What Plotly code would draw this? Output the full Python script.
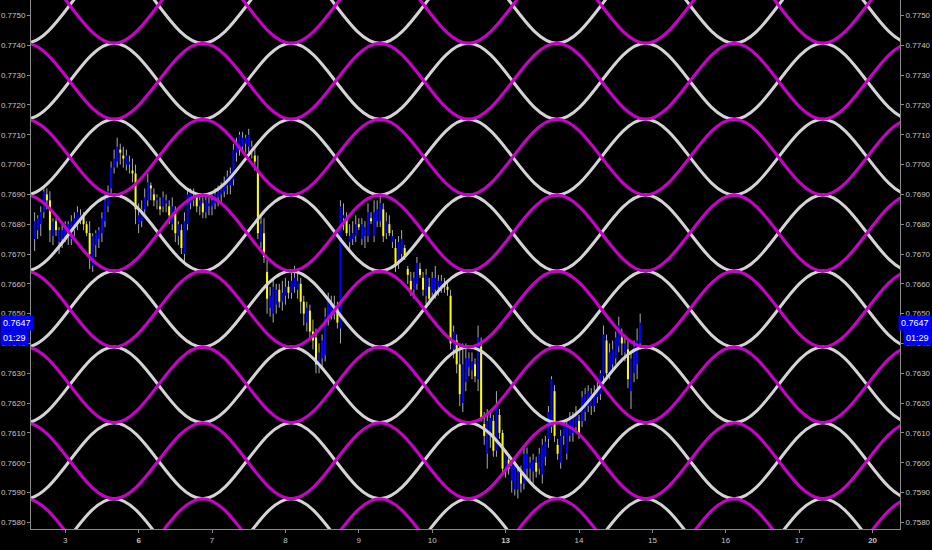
import plotly.graph_objects as go

# ---------------- data ----------------
# hourly bars; hour offsets from the start of trading day "3" (x axis counts trading days)
hours = list(range(-10, 189))

# prices in pips (0.0001)
open_p = [7675,7678,7680,7684,7690,7688,7676,7681,7674,7675,7676,7677,7675,7678,7680,7682,7683,7680,7677,7666,
          7673,7675,7677,7681,7686,7692,7699,7701,7705,7703,7700,7700,7698,7697,7680,7681,7685,7688,7693,7690,
          7688,7686,7686,7687,7686,7680,7684,7676,7678,7670,7680,7687,7688,7689,7686,7687,7684,7686,7686,7687,
          7689,7690,7691,7693,7693,7695,7704,7705,7706,7707,7706,7705,7703,7698,7674,7677,7664,7652,7650,7653,
          7658,7654,7656,7659,7657,7659,7658,7660,7654,7647,7651,7644,7642,7632,7635,7636,7648,7650,7650,7652,
          7645,7682,7682,7674,7675,7676,7680,7675,7676,7676,7682,7676,7681,7681,7685,7677,7680,7674,7672,7668,
          7670,7672,7665,7661,7658,7660,7665,7662,7656,7659,7657,7658,7659,7659,7660,7659,7656,7638,7641,7633,
          7620,7627,7632,7631,7633,7628,7639,7613,7603,7610,7614,7604,7616,7610,7598,7601,7594,7591,7591,7597,
          7593,7598,7598,7597,7600,7598,7596,7602,7608,7612,7624,7606,7600,7609,7603,7609,7610,7612,7614,7614,
          7617,7619,7619,7619,7622,7623,7629,7641,7630,7633,7635,7639,7642,7637,7638,7624,7630,7633,7640]
high_p = [7684,7683,7686,7693,7692,7691,7682,7682,7679,7680,7681,7681,7683,7684,7686,7685,7684,7681,7681,7677,
          7678,7679,7684,7690,7693,7701,7705,7709,7707,7706,7705,7703,7702,7700,7687,7688,7692,7697,7694,7692,
          7690,7689,7691,7690,7688,7689,7686,7681,7680,7684,7692,7692,7692,7690,7690,7689,7690,7689,7690,7692,
          7693,7694,7696,7698,7699,7707,7709,7711,7711,7710,7712,7708,7706,7703,7683,7682,7668,7659,7662,7660,
          7660,7661,7662,7661,7664,7666,7664,7662,7656,7654,7653,7648,7645,7640,7643,7652,7657,7656,7656,7654,
          7688,7687,7684,7680,7681,7683,7682,7682,7681,7687,7684,7688,7688,7690,7687,7684,7683,7678,7675,7676,
          7678,7673,7666,7664,7664,7669,7667,7664,7665,7662,7664,7666,7663,7663,7662,7661,7658,7646,7643,7640,
          7640,7640,7637,7637,7635,7646,7642,7617,7618,7617,7616,7624,7618,7611,7604,7603,7600,7602,7598,7599,
          7605,7605,7602,7603,7602,7605,7608,7609,7619,7629,7626,7608,7611,7614,7614,7617,7617,7619,7616,7624,
          7625,7626,7625,7626,7628,7631,7646,7643,7640,7641,7644,7649,7645,7643,7641,7637,7641,7645,7650]
low_p = [7671,7675,7676,7682,7685,7674,7673,7676,7670,7672,7674,7673,7673,7676,7678,7680,7678,7676,7665,7664,
         7669,7672,7674,7679,7684,7690,7697,7699,7700,7699,7698,7697,7694,7680,7677,7679,7683,7686,7688,7686,
         7685,7683,7684,7684,7680,7678,7674,7673,7670,7667,7678,7685,7686,7684,7683,7682,7682,7683,7683,7685,
         7686,7687,7689,7690,7690,7693,7701,7703,7704,7704,7704,7702,7698,7675,7672,7667,7650,7649,7647,7650,
         7652,7651,7653,7655,7655,7657,7655,7650,7646,7644,7641,7638,7630,7630,7632,7634,7646,7648,7648,7645,
         7640,7678,7676,7671,7673,7674,7678,7673,7672,7674,7680,7674,7679,7679,7674,7675,7676,7672,7664,7665,
         7668,7668,7660,7656,7655,7658,7662,7656,7653,7653,7655,7655,7656,7657,7657,7656,7638,7635,7630,7619,
         7617,7624,7629,7628,7627,7624,7614,7606,7598,7605,7602,7602,7608,7596,7595,7596,7590,7589,7588,7590,
         7591,7595,7594,7593,7595,7596,7593,7599,7605,7610,7607,7601,7598,7606,7601,7607,7607,7610,7608,7612,
         7614,7617,7616,7617,7620,7621,7627,7628,7628,7631,7633,7637,7636,7634,7625,7618,7627,7628,7638]
close_p = [7681,7682,7684,7691,7688,7678,7681,7678,7678,7678,7680,7680,7681,7682,7684,7683,7680,7677,7670,7676,
           7677,7678,7682,7688,7691,7699,7702,7706,7704,7702,7703,7701,7697,7685,7683,7685,7689,7694,7692,7688,
           7689,7685,7689,7688,7683,7686,7677,7680,7672,7681,7690,7691,7689,7686,7688,7684,7688,7687,7688,7690,
           7691,7692,7694,7696,7697,7705,7707,7710,7709,7709,7710,7706,7701,7677,7680,7669,7655,7656,7659,7658,
           7654,7657,7659,7657,7661,7662,7661,7654,7650,7652,7644,7641,7633,7637,7641,7649,7654,7653,7653,7647,
           7686,7683,7677,7676,7677,7680,7679,7680,7679,7684,7681,7684,7685,7687,7676,7681,7677,7676,7666,7674,
           7675,7669,7663,7658,7662,7667,7663,7658,7663,7655,7662,7662,7661,7661,7659,7658,7640,7644,7633,7623,
           7633,7635,7635,7634,7629,7642,7615,7609,7614,7615,7604,7619,7610,7598,7603,7598,7599,7600,7597,7593,
           7603,7603,7600,7601,7597,7603,7606,7607,7617,7628,7609,7603,7609,7613,7612,7615,7615,7617,7610,7622,
           7623,7624,7623,7624,7625,7630,7643,7630,7637,7638,7642,7646,7640,7640,7628,7635,7639,7641,7647]

day_labels = ["3", "6", "7", "8", "9", "10", "13", "14", "15", "16", "17", "20"]
week_starts = ["6", "13", "20"]

# sine-grid indicator: x (trading days) of successive extremes, and the touch levels (pips)
wave_x = [-1.749, -0.542, 0.665, 1.872, 3.079, 4.286, 5.493, 6.700, 7.907, 9.114, 10.321, 11.528, 12.735]
levels = [7562.4, 7587.9, 7613.4, 7638.8, 7664.3, 7689.8, 7715.2, 7740.7, 7766.2]

last_price = "0.7647"
countdown = "01:29"

# ---------------- figure ----------------
PIP = 10000.0
BG = "#000000"
MAG = "#cc00cc"
WHT = "#d4d4d4"
AXC = "#8a8a8a"
TXT = "#c4c4c4"
FONT = "Liberation Sans"

xs = [h / 24.0 for h in hours]

fig = go.Figure()

# wicks
wx, wy = [], []
for x, lo, hi in zip(xs, low_p, high_p):
    wx += [x, x, None]
    wy += [lo / PIP, hi / PIP, None]
fig.add_trace(go.Scatter(x=wx, y=wy, mode="lines", line=dict(color="#ababab", width=1),
                         hoverinfo="skip", showlegend=False))

# bodies
for up, col in ((True, "#0000ff"), (False, "#ffff00")):
    bx, by = [], []
    for x, o, c in zip(xs, open_p, close_p):
        if (c >= o) == up:
            bx += [x, x, None]
            by += [o / PIP, c / PIP, None]
    fig.add_trace(go.Scatter(x=bx, y=by, mode="lines", line=dict(color=col, width=2),
                             hoverinfo="skip", showlegend=False))

# sine grid: in every band one white and one magenta wave in antiphase (white drawn first)
bands = list(zip(levels[:-1], levels[1:]))
for lo, hi in bands:
    wht_y = [(lo if k % 2 else hi) / PIP for k in range(len(wave_x))]
    fig.add_trace(go.Scatter(x=wave_x, y=wht_y, mode="lines",
                             line=dict(color=WHT, width=3, shape="spline", smoothing=1.05),
                             hoverinfo="skip", showlegend=False))
for lo, hi in bands:
    mag_y = [(hi if k % 2 else lo) / PIP for k in range(len(wave_x))]
    fig.add_trace(go.Scatter(x=wave_x, y=mag_y, mode="lines",
                             line=dict(color=MAG, width=3, shape="spline", smoothing=1.05),
                             hoverinfo="skip", showlegend=False))

# invisible trace for the right price axis
fig.add_trace(go.Scatter(x=[xs[0]], y=[close_p[0] / PIP], yaxis="y2", mode="markers",
                         marker=dict(opacity=0), hoverinfo="skip", showlegend=False))

yr = [0.757776, 0.775520]
yticks = [v / PIP for v in range(7580, 7751, 10)]
ax_common = dict(showgrid=False, zeroline=False, showline=True, linecolor=AXC, linewidth=1,
                 ticks="outside", ticklen=3, tickcolor=AXC, tickwidth=1,
                 tickfont=dict(family=FONT, size=8, color=TXT))

fig.update_layout(
    width=932, height=550,
    margin=dict(l=31, r=32, t=0, b=21),
    paper_bgcolor=BG, plot_bgcolor=BG,
    showlegend=False,
    xaxis=dict(range=[-0.466, 11.373], tickmode="array", tickvals=list(range(len(day_labels))),
               ticktext=[f"<b>{d}</b>" if d in week_starts else d for d in day_labels], **ax_common),
    yaxis=dict(range=yr, tickmode="array", tickvals=yticks, tickformat=".4f", side="left", **ax_common),
    yaxis2=dict(range=yr, tickmode="array", tickvals=yticks, tickformat=".4f", side="right",
                overlaying="y", anchor="x", **ax_common),
)

px_w = 932 - 31 - 32
lp = float(last_price)
for xp, anch in ((-31.0 / px_w, "left"), (1 + 32.0 / px_w, "right")):
    fig.add_annotation(x=xp, xref="paper", y=lp, yref="y", xanchor=anch, yanchor="middle",
                       text=last_price, showarrow=False, bgcolor="#0000ff", borderpad=2,
                       font=dict(family=FONT, size=9, color="#ffffff"))
for xp, anch in ((-31.0 / px_w, "left"), (1 + 32.0 / px_w, "right")):
    fig.add_annotation(x=xp, xref="paper", y=lp, yref="y", xanchor=anch, yanchor="middle", yshift=-15,
                       text=countdown, showarrow=False, bgcolor="#0000ff", borderpad=2,
                       font=dict(family=FONT, size=9, color="#ffffff"))

fig.write_html("out.html", config={"displayModeBar": False},
               post_script="document.body.style.margin='0';document.body.style.overflow='hidden';")
